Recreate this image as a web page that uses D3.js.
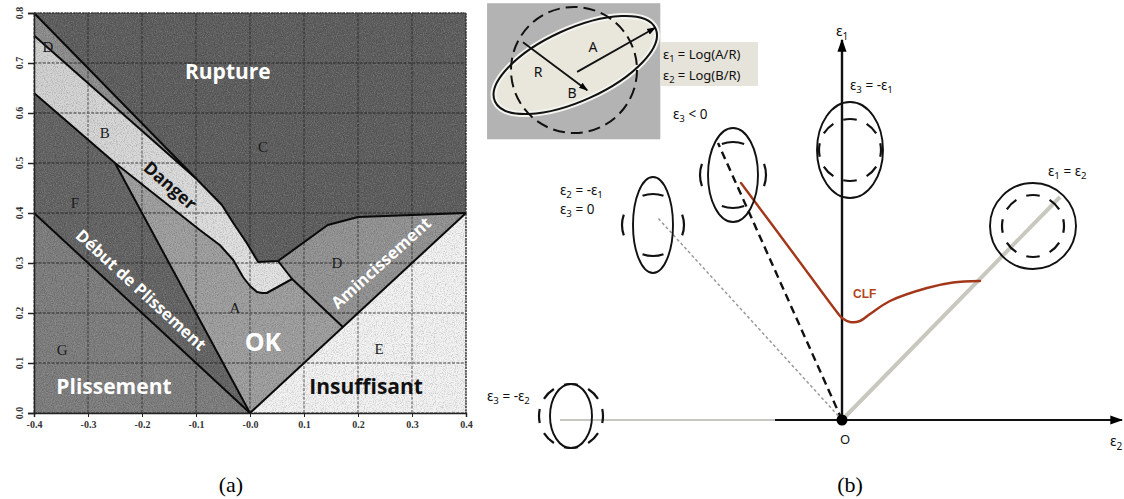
<!DOCTYPE html>
<html><head><meta charset="utf-8">
<script src="https://cdn.jsdelivr.net/npm/d3@7"></script>
<style>body{margin:0;background:#fff}svg{display:block}</style>
</head><body>
<svg id="fig" width="1124" height="499"></svg>
<script>
// ===== Panel (a): forming zones in the (ε2, ε1) plane =====
const xTicks = [-0.4, -0.3, -0.2, -0.1, 0, 0.1, 0.2, 0.3, 0.4];
const xTickLabels = ["-0.4", "-0.3", "-0.2", "-0.1", "-0.0", "0.1", "0.2", "0.3", "0.4"];
const yTicks = [0, 0.1, 0.2, 0.3, 0.4, 0.5, 0.6, 0.7, 0.8];
const yTickLabels = ["0.0", "0.1", "0.2", "0.3", "0.4", "0.5", "0.6", "0.7", "0.8"];

// zone boundaries [ε2, ε1]
const ruptureLine = [[-0.4, 0.8], [-0.1, 0.469], [-0.052, 0.416], [-0.031, 0.38], [-0.006, 0.34],
  [0.015, 0.302], [0.052, 0.304], [0.144, 0.376], [0.2, 0.392], [0.4, 0.4]];
const dangerUpper = [[-0.4, 0.755], [-0.1, 0.469]];
const dangerLower = [[-0.4, 0.64], [-0.25, 0.5], [-0.093, 0.366], [-0.056, 0.336], [-0.031, 0.306],
  [-0.013, 0.272], [0, 0.254], [0.013, 0.242], [0.022, 0.24], [0.031, 0.24], [0.078, 0.268]];
const neckSplit = [[0.052, 0.304], [0.078, 0.268], [0.172, 0.172]];
const wrinkleOnset = [[-0.25, 0.5], [0, 0]];
const wrinkleLine = [[-0.4, 0.4], [0, 0]];
const biaxialLine = [[0, 0], [0.4, 0.4]];

// zone labels [text, ε2, ε1]
const zoneLetters = [["D", -0.374, 0.732], ["B", -0.269, 0.56], ["C", 0.024, 0.532], ["F", -0.324, 0.42],
  ["G", -0.348, 0.126], ["A", -0.028, 0.21], ["D", 0.161, 0.3], ["E", 0.239, 0.128]];
// zone names [text, ε2, ε1, colour, size, angle]
const zoneNames = [
  ["Rupture", -0.041, 0.682, "#fff", 21, 0],
  ["Danger", -0.148, 0.455, "#111", 17.5, 41],
  ["Début de Plissement", -0.202, 0.246, "#fff", 16.5, 42.5],
  ["Plissement", -0.252, 0.052, "#fff", 21, 0],
  ["OK", 0.024, 0.142, "#fff", 25, 0],
  ["Amincissement", 0.243, 0.3, "#fff", 16.5, -42],
  ["Insuffisant", 0.215, 0.052, "#111", 21, 0]
];

// ===== Panel (b): strain paths, in units of the (ε2, ε1) diagram =====
const clfCurve = [[-1.01, 2.37], [-0.5, 1.685], [-0.02, 1.04], [0, 1.02], [0.08, 0.98], [0.18, 0.99],
  [0.28, 1.06], [0.48, 1.19], [0.85, 1.32], [1.11, 1.375], [1.38, 1.39]];
const planeStrainPath = [[0, 0], [-1.24, 2.77]];
const shearPath = [[0, 0], [-1.85, 2.03]];
const equibiaxialPath = [[0, 0], [2.18, 2.23]];
const compressionPath = [[-2.82, 0], [-0.67, 0]];
const axisE2 = [[-0.67, 0], [2.8, 0]];
const axisE1 = [[0, 0], [0, 3.8]];

// deformed grid circles: centre, ellipse half-axes, initial radius, dash count
const strainStates = [
  {cx: 0.08, cy: 2.70, a: 0.33, b: 0.48, r: 0.31, dashes: 8},
  {cx: 1.91, cy: 1.94, a: 0.43, b: 0.43, r: 0.31, dashes: 8},
  {cx: -1.09, cy: 2.45, a: 0.25, b: 0.47, r: 0.33, dashes: 4},
  {cx: -1.89, cy: 1.95, a: 0.20, b: 0.48, r: 0.31, dashes: 4},
  {cx: -2.71, cy: 0.04, a: 0.21, b: 0.32, r: 0.32, dashes: 8}
];
// state labels [text, ε2, ε1]
const stateLabels = [
  ["ε_3 = -ε_1", 0.08, 3.30],
  ["ε_1 = ε_2", 2.06, 2.44],
  ["ε_3 < 0", -1.69, 3.01],
  ["ε_2 = -ε_1", -2.82, 2.25],
  ["ε_3 = 0", -2.82, 2.06],
  ["ε_3 = -ε_2", -3.55, 0.19]
];

// measurement sketch (undeformed radius = 1)
const sketchEllipse = {cx: 0.02, cy: -0.08, a: 1.40, b: 0.57, angle: -24.5};
const arrowA = [[0.05, 0.03], [1.29, -0.67]];
const arrowB = [[-0.81, -0.44], [0.21, 0.32]];
const sketchLetters = [["A", 0.30, -0.37], ["R", -0.57, 0.03], ["B", -0.03, 0.37]];

// ----------------------------------------------------------------
const svg = d3.select("#fig");
const defs = svg.append("defs");

function head(id, size) {
  defs.append("marker").attr("id", id).attr("viewBox", "0 0 10 10")
    .attr("refX", 9).attr("refY", 5).attr("markerWidth", size).attr("markerHeight", size)
    .attr("markerUnits", "userSpaceOnUse").attr("orient", "auto")
    .append("path").attr("d", "M0,1.5L10,5L0,8.5Z").attr("fill", "#000");
}
head("axHead", 13);
head("smallHead", 9);

// grain texture for the scanned zone map
const dark = defs.append("filter").attr("id", "grainDark").attr("x", 0).attr("y", 0).attr("width", "100%").attr("height", "100%");
dark.append("feTurbulence").attr("type", "fractalNoise").attr("baseFrequency", 0.9).attr("numOctaves", 2).attr("seed", 4);
dark.append("feColorMatrix").attr("type", "matrix").attr("values", "0 0 0 0 0  0 0 0 0 0  0 0 0 0 0  0 0 0 -2.6 1.45");
const light = defs.append("filter").attr("id", "grainLight").attr("x", 0).attr("y", 0).attr("width", "100%").attr("height", "100%");
light.append("feTurbulence").attr("type", "fractalNoise").attr("baseFrequency", 0.9).attr("numOctaves", 2).attr("seed", 9);
light.append("feColorMatrix").attr("type", "matrix").attr("values", "0 0 0 0 1  0 0 0 0 1  0 0 0 0 1  0 0 0 -2.6 1.45");

const bandGrad = defs.append("linearGradient").attr("id", "bandGrad").attr("gradientUnits", "userSpaceOnUse")
  .attr("x1", 40).attr("y1", 40).attr("x2", 270).attr("y2", 290);
bandGrad.append("stop").attr("offset", 0).attr("stop-color", "#cfcfcf");
bandGrad.append("stop").attr("offset", 1).attr("stop-color", "#e2e2e2");

// ---------------- Panel (a) ----------------
const xA = d3.scaleLinear().domain([-0.4, 0.4]).range([34, 466]);
const yA = d3.scaleLinear().domain([0, 0.8]).range([413, 13]);
const lineA = d3.line().x(d => xA(d[0])).y(d => yA(d[1]));
const gA = svg.append("g");

const idx = (arr, p) => arr.findIndex(q => q[0] === p[0] && q[1] === p[1]);
const ruptureToNotch = ruptureLine.slice(idx(ruptureLine, dangerUpper[1]), idx(ruptureLine, neckSplit[0]) + 1);
const ruptureRight = ruptureLine.slice(idx(ruptureLine, neckSplit[0]));

const zones = [
  {fill: "#f2f2f2", pts: [[-0.4, 0], [0.4, 0], [0.4, 0.8], [-0.4, 0.8]]},
  {fill: "#7c7c7c", pts: [[-0.4, 0], wrinkleLine[0], [0, 0]]},
  {fill: "#626262", pts: [wrinkleLine[0], dangerLower[0], wrinkleOnset[0], [0, 0]]},
  {fill: "#9d9d9d", pts: [...dangerLower.slice(1), neckSplit[2], [0, 0]]},
  {fill: "#919191", pts: [...ruptureRight, neckSplit[2], neckSplit[1]]},
  {fill: "#5c5c5c", pts: [...ruptureLine, [0.4, 0.8]]},
  {fill: "#8b8b8b", pts: [ruptureLine[0], dangerUpper[1], dangerUpper[0]]},
  {fill: "url(#bandGrad)", pts: [dangerUpper[0], ...ruptureToNotch, neckSplit[1], ...dangerLower.slice().reverse()]}
];
gA.selectAll("path.zone").data(zones).join("path").attr("class", "zone")
  .attr("d", d => lineA(d.pts) + "Z").attr("fill", d => d.fill);

// grain
gA.append("rect").attr("x", xA(-0.4)).attr("y", yA(0.8)).attr("width", xA(0.4) - xA(-0.4)).attr("height", yA(0) - yA(0.8))
  .attr("filter", "url(#grainDark)").attr("opacity", 0.18);
gA.append("rect").attr("x", xA(-0.4)).attr("y", yA(0.8)).attr("width", xA(0.4) - xA(-0.4)).attr("height", yA(0) - yA(0.8))
  .attr("filter", "url(#grainLight)").attr("opacity", 0.16);

// grid
const grid = gA.append("g").attr("stroke", "#1c1c1c").attr("stroke-width", 1.3).attr("stroke-dasharray", "3 1.4").attr("opacity", 0.55);
grid.selectAll("line.v").data(xTicks).join("line").attr("class", "v")
  .attr("x1", d => xA(d)).attr("x2", d => xA(d)).attr("y1", yA(0)).attr("y2", yA(0.8));
grid.selectAll("line.h").data(yTicks).join("line").attr("class", "h")
  .attr("y1", d => yA(d)).attr("y2", d => yA(d)).attr("x1", xA(-0.4)).attr("x2", xA(0.4));

// zone boundaries
[ruptureLine, dangerUpper, dangerLower, neckSplit, wrinkleOnset, wrinkleLine, biaxialLine].forEach(l => {
  gA.append("path").attr("d", lineA(l)).attr("fill", "none").attr("stroke", "#0a0a0a")
    .attr("stroke-width", 2).attr("stroke-linejoin", "round");
});

// axes
const axB = gA.append("g").attr("transform", `translate(0,${yA(0)})`)
  .call(d3.axisBottom(xA).tickValues(xTicks).tickFormat((d, i) => xTickLabels[i]).tickSize(4).tickPadding(4));
axB.select(".domain").attr("stroke", "#222").attr("stroke-width", 1.5);
axB.selectAll("line").attr("stroke", "#222");
axB.selectAll("text").attr("font-family", "Liberation Serif").attr("font-size", 10).attr("font-weight", "bold").attr("fill", "#333");

const axL = gA.append("g").attr("transform", `translate(${xA(-0.4)},0)`)
  .call(d3.axisLeft(yA).tickValues(yTicks).tickSize(6).tickFormat(""));
axL.select(".domain").attr("stroke", "#222").attr("stroke-width", 1.5);
axL.selectAll("line").attr("stroke", "#222").attr("stroke-width", 1.5);
gA.selectAll("text.ylab").data(yTicks).join("text").attr("class", "ylab")
  .attr("transform", d => `translate(19,${yA(d)}) rotate(-90)`)
  .attr("text-anchor", "middle").attr("dy", "0.35em")
  .attr("font-family", "Liberation Serif").attr("font-size", 10).attr("font-weight", "bold").attr("fill", "#333")
  .text((d, i) => yTickLabels[i]);
gA.append("line").attr("x1", xA(-0.4)).attr("x2", xA(0.4)).attr("y1", yA(0.8)).attr("y2", yA(0.8))
  .attr("stroke", "#333").attr("stroke-width", 1).attr("stroke-dasharray", "2 1");
gA.append("line").attr("x1", xA(0.4)).attr("x2", xA(0.4)).attr("y1", yA(0.8)).attr("y2", yA(0))
  .attr("stroke", "#333").attr("stroke-width", 1.2).attr("stroke-dasharray", "2 1");

// labels
gA.selectAll("text.letter").data(zoneLetters).join("text").attr("class", "letter")
  .attr("x", d => xA(d[1])).attr("y", d => yA(d[2])).attr("dy", "0.35em").attr("text-anchor", "middle")
  .attr("font-family", "Liberation Serif").attr("font-size", 15).attr("fill", "#1a1a1a").text(d => d[0]);
gA.selectAll("text.zname").data(zoneNames).join("text").attr("class", "zname")
  .attr("transform", d => `translate(${xA(d[1])},${yA(d[2])}) rotate(${d[5]})`)
  .attr("text-anchor", "middle").attr("dy", "0.35em")
  .attr("font-family", "Open Sans").attr("font-weight", 700).attr("font-size", d => d[4])
  .attr("fill", d => d[3]).text(d => d[0]);

// ---------------- Panel (b) ----------------
const xB = d3.scaleLinear().domain([-3.6, 2.8]).range([482, 1122]);
const yB = d3.scaleLinear().domain([0, 3.8]).range([420, 40]);
const lineB = d3.line().x(d => xB(d[0])).y(d => yB(d[1]));
const gB = svg.append("g");
const unit = xB(1) - xB(0);

gB.append("path").attr("d", lineB(compressionPath)).attr("stroke", "#b4b4ac").attr("stroke-width", 1.6).attr("fill", "none");
gB.append("path").attr("d", lineB(shearPath)).attr("stroke", "#9a9a9a").attr("stroke-width", 1.5)
  .attr("stroke-dasharray", "3 2.5").attr("fill", "none");
gB.append("path").attr("d", lineB(equibiaxialPath)).attr("stroke", "#c8c8bf").attr("stroke-width", 4).attr("fill", "none");
gB.append("path").attr("d", lineB(planeStrainPath)).attr("stroke", "#111").attr("stroke-width", 2.4)
  .attr("stroke-dasharray", "8 5").attr("fill", "none");
gB.append("path").attr("d", lineB(axisE2)).attr("stroke", "#111").attr("stroke-width", 2.2).attr("marker-end", "url(#axHead)");
gB.append("path").attr("d", lineB(axisE1)).attr("stroke", "#111").attr("stroke-width", 2.4).attr("marker-end", "url(#axHead)");
const clfLine = d3.line().x(d => xB(d[0])).y(d => yB(d[1])).curve(d3.curveCatmullRom.alpha(0.5));
gB.append("path").attr("d", clfLine(clfCurve)).attr("stroke", "#a3371a")
  .attr("stroke-width", 2.4).attr("fill", "none").attr("stroke-linecap", "round");
gB.append("circle").attr("cx", xB(0)).attr("cy", yB(0)).attr("r", 5.5).attr("fill", "#000");

// strain state glyphs
const glyph = gB.selectAll("g.state").data(strainStates).join("g").attr("class", "state")
  .attr("transform", d => `translate(${xB(d.cx)},${yB(d.cy)})`);
glyph.append("circle").attr("r", d => d.r * unit).attr("fill", "none").attr("stroke", "#111").attr("stroke-width", 2.2)
  .attr("pathLength", 100)
  .attr("stroke-dasharray", d => d.dashes === 8 ? "7 5.5" : "11 14")
  .attr("stroke-dashoffset", d => d.dashes === 8 ? 3.5 : 5.5);
glyph.append("ellipse").attr("rx", d => d.a * unit).attr("ry", d => d.b * unit)
  .attr("fill", "none").attr("stroke", "#111").attr("stroke-width", 1.9);

// text with ε subscripts
function richText(sel, str, size) {
  const parts = str.split(/_(\d)/);
  parts.forEach((p, i) => {
    if (!p) return;
    if (i % 2 === 1) sel.append("tspan").attr("font-size", size * 0.72).attr("dy", size * 0.25).text(p);
    else sel.append("tspan").attr("font-size", size).attr("dy", i > 0 ? -size * 0.25 : 0).text(p);
  });
}
stateLabels.forEach(d => {
  const t = gB.append("text").attr("x", xB(d[1])).attr("y", yB(d[2]))
    .attr("font-family", "Noto Sans").attr("fill", "#111");
  richText(t, d[0], 13.5);
});
// axis labels
const e1 = gB.append("text").attr("x", xB(0) - 6).attr("y", yB(3.84)).attr("font-family", "Noto Sans").attr("fill", "#111");
richText(e1, "ε_1", 14);
const e2 = gB.append("text").attr("x", xB(2.68)).attr("y", yB(-0.26)).attr("font-family", "Noto Sans").attr("fill", "#111");
richText(e2, "ε_2", 14);
gB.append("text").attr("x", xB(0.03)).attr("y", yB(-0.24)).attr("text-anchor", "middle")
  .attr("font-family", "Noto Sans").attr("font-size", 13).attr("fill", "#111").text("O");
gB.append("text").attr("x", xB(0.11)).attr("y", yB(1.22)).attr("font-family", "Liberation Sans").attr("font-weight", "bold")
  .attr("font-size", 12).attr("fill", "#b3461c").text("CLF");

// measurement sketch
const xS = d3.scaleLinear().domain([-1, 1]).range([511, 637]);
const yS = d3.scaleLinear().domain([-1, 1]).range([7, 133]);
const sk = svg.append("g");
sk.append("rect").attr("x", xS(-1.38)).attr("y", yS(-1.06)).attr("width", xS(1.37) - xS(-1.38)).attr("height", yS(1.1) - yS(-1.06))
  .attr("fill", "#b3b3b3");
sk.append("ellipse").attr("rx", (xS(sketchEllipse.a) - xS(0))).attr("ry", xS(sketchEllipse.b) - xS(0))
  .attr("transform", `translate(${xS(sketchEllipse.cx)},${yS(sketchEllipse.cy)}) rotate(${sketchEllipse.angle})`)
  .attr("fill", "#e9e6dc").attr("stroke", "#f4f4f0").attr("stroke-width", 6);
sk.append("ellipse").attr("rx", (xS(sketchEllipse.a) - xS(0))).attr("ry", xS(sketchEllipse.b) - xS(0))
  .attr("transform", `translate(${xS(sketchEllipse.cx)},${yS(sketchEllipse.cy)}) rotate(${sketchEllipse.angle})`)
  .attr("fill", "none").attr("stroke", "#111").attr("stroke-width", 2);
sk.append("circle").attr("cx", xS(0)).attr("cy", yS(0)).attr("r", xS(1) - xS(0))
  .attr("fill", "none").attr("stroke", "#111").attr("stroke-width", 2).attr("stroke-dasharray", "12 6");
const lineS = d3.line().x(d => xS(d[0])).y(d => yS(d[1]));
sk.append("path").attr("d", lineS(arrowA)).attr("stroke", "#111").attr("stroke-width", 1.8).attr("marker-end", "url(#smallHead)");
sk.append("path").attr("d", lineS(arrowB)).attr("stroke", "#111").attr("stroke-width", 1.8).attr("marker-end", "url(#smallHead)");
sk.selectAll("text.sl").data(sketchLetters).join("text").attr("class", "sl")
  .attr("x", d => xS(d[1])).attr("y", d => yS(d[2])).attr("dy", "0.35em").attr("text-anchor", "middle")
  .attr("font-family", "Noto Sans").attr("font-size", 14).attr("fill", "#111").text(d => d[0]);

sk.append("rect").attr("x", 660).attr("y", 42).attr("width", 98).attr("height", 44).attr("fill", "#e6e3da");
const f1 = sk.append("text").attr("x", 663).attr("y", 59).attr("font-family", "Noto Sans").attr("fill", "#111");
richText(f1, "ε_1 = Log(A/R)", 13);
const f2 = sk.append("text").attr("x", 663).attr("y", 80).attr("font-family", "Noto Sans").attr("fill", "#111");
richText(f2, "ε_2 = Log(B/R)", 13);

// captions
svg.append("text").attr("x", 231).attr("y", 492).attr("text-anchor", "middle")
  .attr("font-family", "Liberation Serif").attr("font-size", 22).text("(a)");
svg.append("text").attr("x", 850).attr("y", 492).attr("text-anchor", "middle")
  .attr("font-family", "Liberation Serif").attr("font-size", 22).text("(b)");
</script>
</body></html>
